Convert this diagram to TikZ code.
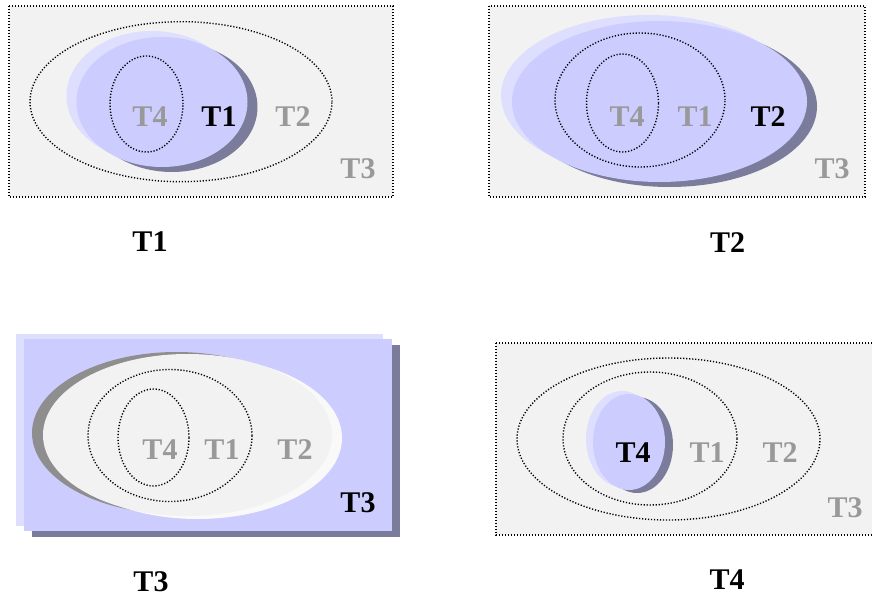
\documentclass[tikz,border=0pt]{standalone}
\usepackage{fontspec}
\setmainfont{Liberation Serif}
\definecolor{panelgray}{HTML}{F2F2F2}
\definecolor{lav}{HTML}{CCCCFF}
\definecolor{lavlight}{HTML}{DEDEFF}
\definecolor{lavdark}{HTML}{7B7B9B}
\definecolor{labgray}{HTML}{999999}
\definecolor{shgray}{HTML}{8E8E8E}
\definecolor{rimwhite}{HTML}{F9F9F9}
\begin{document}
\begin{tikzpicture}[x=1pt,y=-1pt,
  lbl/.style={font=\fontsize{30}{31}\selectfont\bfseries,inner sep=0pt},
  dim/.style={lbl,text=labgray},
  hot/.style={lbl,text=black},
  dots/.style={draw=black,line width=1.4pt,dash pattern=on 1.2pt off 1.8pt},
  panel/.style={dots,fill=panelgray}]
\useasboundingbox (0,0) rectangle (872,597);
\begin{scope}
\clip (0,0) rectangle (872,597);
% ---------- Panel 1 ----------
\draw[panel] (9,6) rectangle (393,197);
\draw[dots] (181,101.7) ellipse [x radius=151pt, y radius=80pt];
\fill[lavdark] (172,107) ellipse [x radius=85.5pt, y radius=65pt];
\fill[lavlight] (152,96) ellipse [x radius=85.5pt, y radius=65pt];
\fill[lav] (162,102) ellipse [x radius=85.5pt, y radius=65pt];
\draw[dots] (146.5,104) ellipse [x radius=36.5pt, y radius=48pt];
\node[dim] (p1t4) at (150,116.5) {T4};
\node[hot] (p1t1) at (219,116.5) {T1};
\node[dim] (p1t2) at (293,116.5) {T2};
\node[dim] (p1t3) at (358,169) {T3};
\node[hot] (c1) at (150,242) {T1};
% ---------- Panel 2 ----------
\draw[panel] (489,6) rectangle (865,197);
\fill[lavdark] (669.5,106.5) ellipse [x radius=147.5pt, y radius=80.5pt];
\fill[lavlight] (648.5,95.5) ellipse [x radius=147.5pt, y radius=80.5pt];
\fill[lav] (659.5,101.5) ellipse [x radius=147.5pt, y radius=80.5pt];
\draw[dots] (640,100) ellipse [x radius=85pt, y radius=67pt];
\draw[dots] (622.5,103) ellipse [x radius=36pt, y radius=49pt];
\node[dim] (p2t4) at (627,116.5) {T4};
\node[dim] (p2t1) at (695,116.5) {T1};
\node[hot] (p2t2) at (768,116.5) {T2};
\node[dim] (p2t3) at (832,169) {T3};
\node[hot] (c2) at (727.5,242.5) {T2};
% ---------- Panel 3 ----------
\fill[lavdark] (32,345) rectangle (400,537);
\fill[lavlight] (16,334) rectangle (383,526);
\fill[lav] (24,339) rectangle (392,531);
\fill[shgray] (176.5,433) ellipse [x radius=144.5pt, y radius=81pt];
\fill[rimwhite] (197.5,438) ellipse [x radius=144.5pt, y radius=81pt];
\fill[panelgray] (187.5,435) ellipse [x radius=144.5pt, y radius=81pt];
\draw[dots] (170,435.5) ellipse [x radius=82pt, y radius=66pt];
\draw[dots] (153.5,437.5) ellipse [x radius=35.5pt, y radius=48.5pt];
\node[dim] (p3t4) at (160,450) {T4};
\node[dim] (p3t1) at (222,450) {T1};
\node[dim] (p3t2) at (295,450) {T2};
\node[hot] (p3t3) at (358,503) {T3};
\node[hot] (c3) at (151,581.5) {T3};
% ---------- Panel 4 ----------
\draw[panel] (496,343) rectangle (885,535);
\draw[dots] (668.5,439) ellipse [x radius=151.5pt, y radius=81pt];
\draw[dots] (650,438.5) ellipse [x radius=87pt, y radius=66.5pt];
\fill[lavdark] (637,445) ellipse [x radius=36pt, y radius=48pt];
\fill[lavlight] (622,439) ellipse [x radius=36pt, y radius=48pt];
\fill[lav] (629,442) ellipse [x radius=36pt, y radius=48pt];
\node[hot] (p4t4) at (633,453) {T4};
\node[dim] (p4t1) at (707,453) {T1};
\node[dim] (p4t2) at (780,453) {T2};
\node[dim] (p4t3) at (845,508) {T3};
\node[hot] (c4) at (727,580) {T4};
\end{scope}
\end{tikzpicture}
\end{document}
